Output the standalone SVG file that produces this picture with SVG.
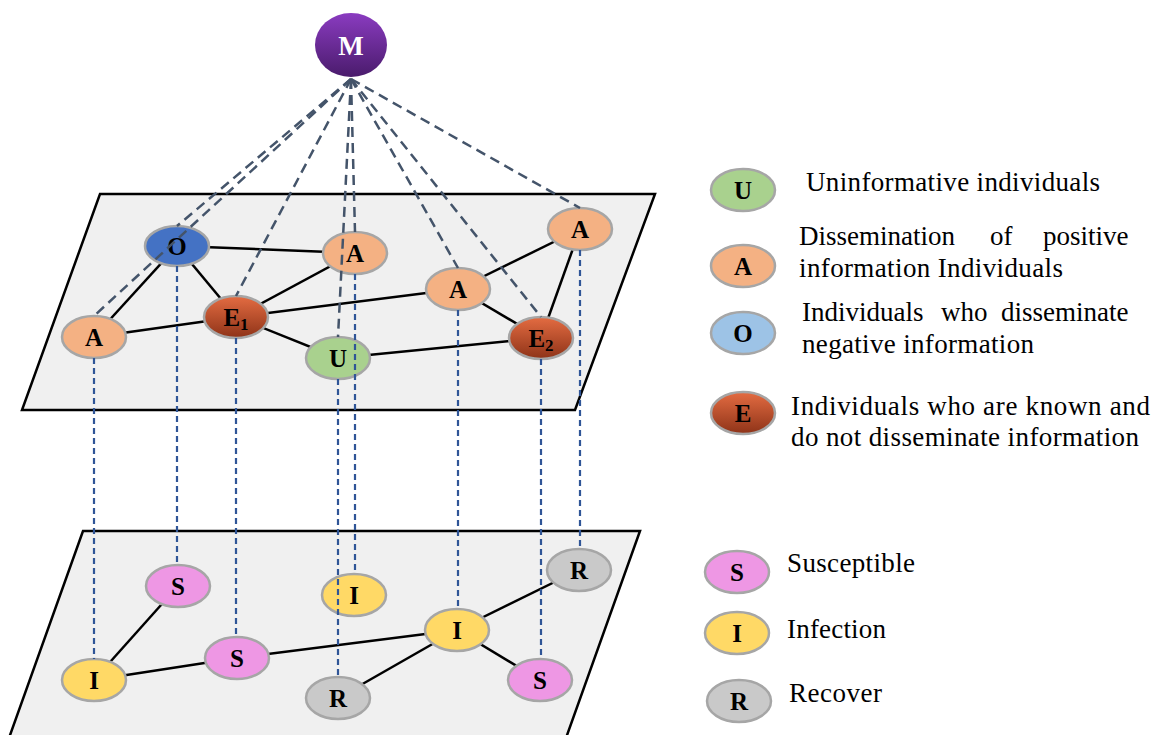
<svg xmlns="http://www.w3.org/2000/svg" width="1156" height="735" viewBox="0 0 1156 735">
<defs>
<linearGradient id="gM" x1="0" y1="0" x2="0" y2="1"><stop offset="0" stop-color="#8a3bc0"/><stop offset="1" stop-color="#4a1b6c"/></linearGradient>
<linearGradient id="gE" x1="0" y1="0" x2="0" y2="1"><stop offset="0" stop-color="#e46c42"/><stop offset="1" stop-color="#8e3318"/></linearGradient>
<style>
.plane{fill:#f0f0f0;stroke:#000;stroke-width:2.5}
.edge{stroke:#000;stroke-width:2.5;fill:none}
.mline{stroke:#44546a;stroke-width:2.5;stroke-dasharray:10 6;fill:none}
.vline{stroke:#2f5597;stroke-width:2.2;stroke-dasharray:6 4;fill:none}
.n{stroke:#a6a6a6;stroke-width:2.5}
.nA{fill:#f4b183}.nO{fill:#4472c4}.nOl{fill:#9dc3e6}.nU{fill:#a9d18e}.nE{fill:url(#gE)}
.nS{fill:#ee97e4}.nI{fill:#ffd966}.nR{fill:#c9c9c9}
.lbl{font-family:"Liberation Serif","Times New Roman",serif;font-weight:bold;font-size:25px;fill:#000;text-anchor:middle}
.leg{font-family:"Liberation Serif","Times New Roman",serif;font-size:27px;fill:#000}
</style>
</defs>
<rect width="1156" height="735" fill="#fff"/>
<polygon class="plane" points="100,194 655,194 575,410 22,410"/>
<polygon class="plane" points="83,531 640,531 561,752 4,752"/>
<g id="edges">
<line class="edge" x1="177" y1="246" x2="355" y2="253"/>
<line class="edge" x1="177" y1="246" x2="94" y2="337"/>
<line class="edge" x1="177" y1="246" x2="236" y2="317"/>
<line class="edge" x1="236" y1="317" x2="355" y2="253"/>
<line class="edge" x1="236" y1="317" x2="94" y2="337"/>
<line class="edge" x1="236" y1="317" x2="458" y2="289"/>
<line class="edge" x1="236" y1="317" x2="338" y2="358"/>
<line class="edge" x1="338" y1="358" x2="541" y2="338"/>
<line class="edge" x1="458" y1="289" x2="580" y2="229"/>
<line class="edge" x1="458" y1="289" x2="541" y2="338"/>
<line class="edge" x1="580" y1="229" x2="541" y2="338"/>
<line class="edge" x1="94" y1="680" x2="178" y2="586"/>
<line class="edge" x1="94" y1="680" x2="237" y2="658"/>
<line class="edge" x1="237" y1="658" x2="457" y2="630"/>
<line class="edge" x1="457" y1="630" x2="579" y2="570"/>
<line class="edge" x1="457" y1="630" x2="338" y2="698"/>
<line class="edge" x1="457" y1="630" x2="540" y2="680"/>
</g>
<g id="node-M"><ellipse cx="351" cy="45" rx="36" ry="32" fill="url(#gM)"/><text x="351" y="55" class="lbl" style="fill:#fff;font-size:27px">M</text></g>
<g id="node-O"><ellipse class="n nO" cx="177" cy="246" rx="32" ry="20"/><text x="177" y="255" class="lbl">O</text></g>
<g id="node-A1"><ellipse class="n nA" cx="355" cy="253" rx="32" ry="21"/><text x="355" y="262" class="lbl">A</text></g>
<g id="node-A2"><ellipse class="n nA" cx="580" cy="229" rx="32" ry="21"/><text x="580" y="238" class="lbl">A</text></g>
<g id="node-A3"><ellipse class="n nA" cx="458" cy="289" rx="32" ry="21"/><text x="458" y="298" class="lbl">A</text></g>
<g id="node-A4"><ellipse class="n nA" cx="94" cy="337" rx="32" ry="21"/><text x="94" y="346" class="lbl">A</text></g>
<g id="node-E1"><ellipse class="n nE" cx="236" cy="317" rx="32" ry="21"/><text x="236" y="326" class="lbl">E<tspan font-size="17" dy="4">1</tspan></text></g>
<g id="node-U"><ellipse class="n nU" cx="338" cy="358" rx="32" ry="21"/><text x="338" y="367" class="lbl">U</text></g>
<g id="node-E2"><ellipse class="n nE" cx="541" cy="338" rx="32" ry="21"/><text x="541" y="347" class="lbl">E<tspan font-size="17" dy="4">2</tspan></text></g>
<g id="node-S1"><ellipse class="n nS" cx="178" cy="586" rx="32" ry="21"/><text x="178" y="595" class="lbl">S</text></g>
<g id="node-I1"><ellipse class="n nI" cx="94" cy="680" rx="32" ry="21"/><text x="94" y="689" class="lbl">I</text></g>
<g id="node-S2"><ellipse class="n nS" cx="237" cy="658" rx="32" ry="21"/><text x="237" y="667" class="lbl">S</text></g>
<g id="node-I2"><ellipse class="n nI" cx="354" cy="595" rx="32" ry="21"/><text x="354" y="604" class="lbl">I</text></g>
<g id="node-R1"><ellipse class="n nR" cx="338" cy="698" rx="32" ry="21"/><text x="338" y="707" class="lbl">R</text></g>
<g id="node-I3"><ellipse class="n nI" cx="457" cy="630" rx="32" ry="21"/><text x="457" y="639" class="lbl">I</text></g>
<g id="node-R2"><ellipse class="n nR" cx="579" cy="570" rx="32" ry="21"/><text x="579" y="579" class="lbl">R</text></g>
<g id="node-S3"><ellipse class="n nS" cx="540" cy="680" rx="32" ry="21"/><text x="540" y="689" class="lbl">S</text></g>
<g id="connectors">
<line class="mline" x1="351" y1="79" x2="177" y2="226"/>
<line class="mline" x1="351" y1="79" x2="94" y2="316"/>
<line class="mline" x1="351" y1="79" x2="236" y2="296"/>
<line class="mline" x1="351" y1="79" x2="355" y2="232"/>
<line class="mline" x1="351" y1="79" x2="338" y2="337"/>
<line class="mline" x1="351" y1="79" x2="458" y2="268"/>
<line class="mline" x1="351" y1="79" x2="541" y2="317"/>
<line class="mline" x1="351" y1="79" x2="580" y2="208"/>
<line class="vline" x1="94" y1="358" x2="94" y2="659"/>
<line class="vline" x1="177" y1="266" x2="177" y2="565"/>
<line class="vline" x1="236" y1="338" x2="236" y2="637"/>
<line class="vline" x1="338" y1="379" x2="338" y2="677"/>
<line class="vline" x1="355" y1="274" x2="355" y2="574"/>
<line class="vline" x1="458" y1="310" x2="458" y2="609"/>
<line class="vline" x1="541" y1="359" x2="541" y2="659"/>
<line class="vline" x1="580" y1="250" x2="580" y2="549"/>
</g>
<g id="legend-U"><ellipse class="n nU" cx="743" cy="190" rx="32" ry="21"/><text x="743" y="199" class="lbl">U</text><text class="leg" x="806" y="191" textLength="294">Uninformative individuals</text></g>
<g id="legend-A"><ellipse class="n nA" cx="743" cy="266" rx="32" ry="21"/><text x="743" y="275" class="lbl">A</text><text class="leg" x="799" y="245">Dissemination</text><text class="leg" x="990" y="245">of</text><text class="leg" x="1043" y="245">positive</text><text class="leg" x="799" y="277" textLength="264">information Individuals</text></g>
<g id="legend-O"><ellipse class="n nOl" cx="743" cy="333" rx="32" ry="21"/><text x="743" y="342" class="lbl">O</text><text class="leg" x="802" y="321">Individuals</text><text class="leg" x="941" y="321">who</text><text class="leg" x="1001" y="321">disseminate</text><text class="leg" x="802" y="353" textLength="232">negative information</text></g>
<g id="legend-E"><ellipse class="n nE" cx="743" cy="413" rx="32" ry="21"/><text x="743" y="422" class="lbl">E</text><text class="leg" x="791" y="415" textLength="359">Individuals who are known and</text><text class="leg" x="791" y="446" textLength="348">do not disseminate information</text></g>
<g id="legend-S"><ellipse class="n nS" cx="737" cy="572" rx="32" ry="21"/><text x="737" y="581" class="lbl">S</text><text class="leg" x="787" y="572" textLength="128">Susceptible</text></g>
<g id="legend-I"><ellipse class="n nI" cx="737" cy="633" rx="32" ry="21"/><text x="737" y="642" class="lbl">I</text><text class="leg" x="787" y="638" textLength="99">Infection</text></g>
<g id="legend-R"><ellipse class="n nR" cx="739" cy="701" rx="32" ry="21"/><text x="739" y="710" class="lbl">R</text><text class="leg" x="789" y="702" textLength="93">Recover</text></g>
</svg>
